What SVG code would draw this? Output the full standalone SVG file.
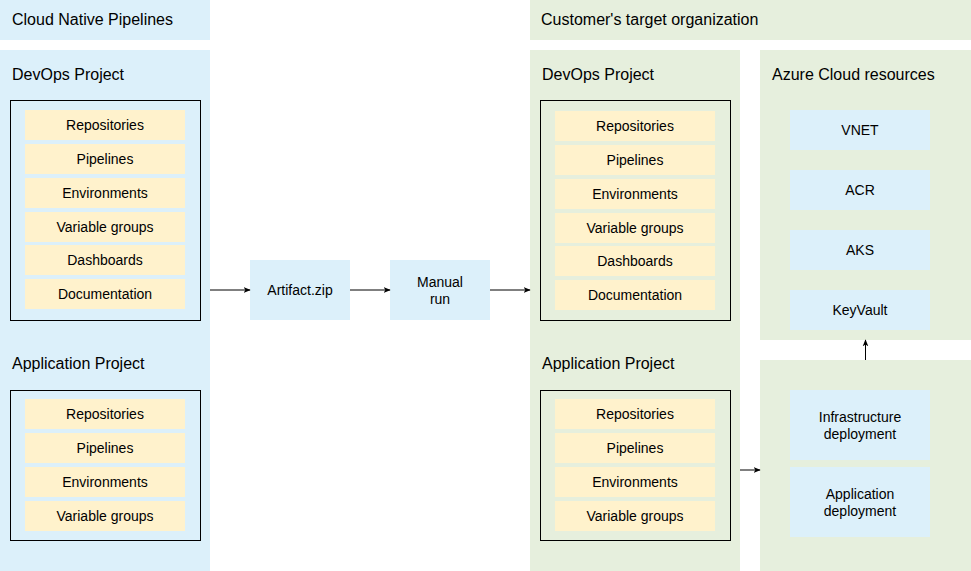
<svg xmlns="http://www.w3.org/2000/svg" width="971" height="571" viewBox="0 0 971 571">
<defs>
<style>
text{font-family:"Liberation Sans",Arial,Helvetica,sans-serif;fill:#000}
.t{font-size:16px}
.i{font-size:14px;text-anchor:middle}
.blue{fill:#dcf0fa}
.green{fill:#e6efdd}
.yel{fill:#fff2cc}
.box{fill:none;stroke:#000;stroke-width:1}
.c{stroke:#000;stroke-width:1;fill:none;marker-end:url(#ah)}
</style>
<marker id="ah" viewBox="0 0 10 10" refX="9" refY="5" markerWidth="7" markerHeight="7" orient="auto" markerUnits="userSpaceOnUse">
<path d="M0,1 L10,5 L0,9 L2.5,5 Z" fill="#000"/>
</marker>
</defs>
<rect width="971" height="571" fill="#fff"/>

<g id="cnp-header"><rect class="blue" x="0" y="0" width="210" height="40"/><text class="t" x="12" y="25">Cloud Native Pipelines</text></g>
<g id="cnp-panel"><rect class="blue" x="0" y="50" width="210" height="521"/>
<text class="t" x="12" y="80">DevOps Project</text>
<text class="t" x="12" y="369">Application Project</text></g>

<g id="left-devops"><rect class="box" x="10.5" y="100.5" width="190" height="220"/>
<rect class="yel" x="25" y="110" width="160" height="30"/><text class="i" x="105" y="130">Repositories</text>
<rect class="yel" x="25" y="144" width="160" height="30"/><text class="i" x="105" y="164">Pipelines</text>
<rect class="yel" x="25" y="178" width="160" height="30"/><text class="i" x="105" y="198">Environments</text>
<rect class="yel" x="25" y="212" width="160" height="30"/><text class="i" x="105" y="232">Variable groups</text>
<rect class="yel" x="25" y="245" width="160" height="30"/><text class="i" x="105" y="265">Dashboards</text>
<rect class="yel" x="25" y="279" width="160" height="30"/><text class="i" x="105" y="299">Documentation</text></g>

<g id="left-app"><rect class="box" x="10.5" y="390.5" width="190" height="150"/>
<rect class="yel" x="25" y="399" width="160" height="30"/><text class="i" x="105" y="419">Repositories</text>
<rect class="yel" x="25" y="433" width="160" height="30"/><text class="i" x="105" y="453">Pipelines</text>
<rect class="yel" x="25" y="467" width="160" height="30"/><text class="i" x="105" y="487">Environments</text>
<rect class="yel" x="25" y="501" width="160" height="30"/><text class="i" x="105" y="521">Variable groups</text></g>

<g id="artifact"><rect class="blue" x="250" y="260" width="100" height="60"/><text class="i" x="300" y="295">Artifact.zip</text></g>
<g id="manual"><rect class="blue" x="390" y="260" width="100" height="60"/><text class="i" x="440" y="287">Manual</text><text class="i" x="440" y="304">run</text></g>

<g id="cto-header"><rect class="green" x="530" y="0" width="441" height="40"/><text class="t" x="541" y="25">Customer's target organization</text></g>
<g id="cto-panel"><rect class="green" x="530" y="50" width="210" height="521"/>
<text class="t" x="542" y="80">DevOps Project</text>
<text class="t" x="542" y="369">Application Project</text></g>

<g id="right-devops"><rect class="box" x="540.5" y="100.5" width="190" height="220"/>
<rect class="yel" x="555" y="111" width="160" height="30"/><text class="i" x="635" y="131">Repositories</text>
<rect class="yel" x="555" y="145" width="160" height="30"/><text class="i" x="635" y="165">Pipelines</text>
<rect class="yel" x="555" y="179" width="160" height="30"/><text class="i" x="635" y="199">Environments</text>
<rect class="yel" x="555" y="213" width="160" height="30"/><text class="i" x="635" y="233">Variable groups</text>
<rect class="yel" x="555" y="246" width="160" height="30"/><text class="i" x="635" y="266">Dashboards</text>
<rect class="yel" x="555" y="280" width="160" height="30"/><text class="i" x="635" y="300">Documentation</text></g>

<g id="right-app"><rect class="box" x="540.5" y="390.5" width="190" height="150"/>
<rect class="yel" x="555" y="399" width="160" height="30"/><text class="i" x="635" y="419">Repositories</text>
<rect class="yel" x="555" y="433" width="160" height="30"/><text class="i" x="635" y="453">Pipelines</text>
<rect class="yel" x="555" y="467" width="160" height="30"/><text class="i" x="635" y="487">Environments</text>
<rect class="yel" x="555" y="501" width="160" height="30"/><text class="i" x="635" y="521">Variable groups</text></g>

<g id="azure"><rect class="green" x="760" y="50" width="211" height="290"/>
<text class="t" x="772" y="80">Azure Cloud resources</text>
<rect class="blue" x="790" y="110" width="140" height="40"/><text class="i" x="860" y="135">VNET</text>
<rect class="blue" x="790" y="170" width="140" height="40"/><text class="i" x="860" y="195">ACR</text>
<rect class="blue" x="790" y="230" width="140" height="40"/><text class="i" x="860" y="255">AKS</text>
<rect class="blue" x="790" y="290" width="140" height="40"/><text class="i" x="860" y="315">KeyVault</text></g>

<g id="deploy"><rect class="green" x="760" y="360" width="211" height="211"/>
<rect class="blue" x="790" y="390" width="140" height="70"/><text class="i" x="860" y="422">Infrastructure</text><text class="i" x="860" y="439">deployment</text>
<rect class="blue" x="790" y="467" width="140" height="70"/><text class="i" x="860" y="499">Application</text><text class="i" x="860" y="516">deployment</text></g>

<g id="connectors">
<line class="c" x1="210" y1="290" x2="250" y2="290"/>
<line class="c" x1="350" y1="290" x2="390" y2="290"/>
<line class="c" x1="490" y1="290" x2="530" y2="290"/>
<line class="c" x1="740" y1="470" x2="760" y2="470"/>
<line class="c" x1="865.5" y1="360" x2="865.5" y2="340"/>
</g>
</svg>
